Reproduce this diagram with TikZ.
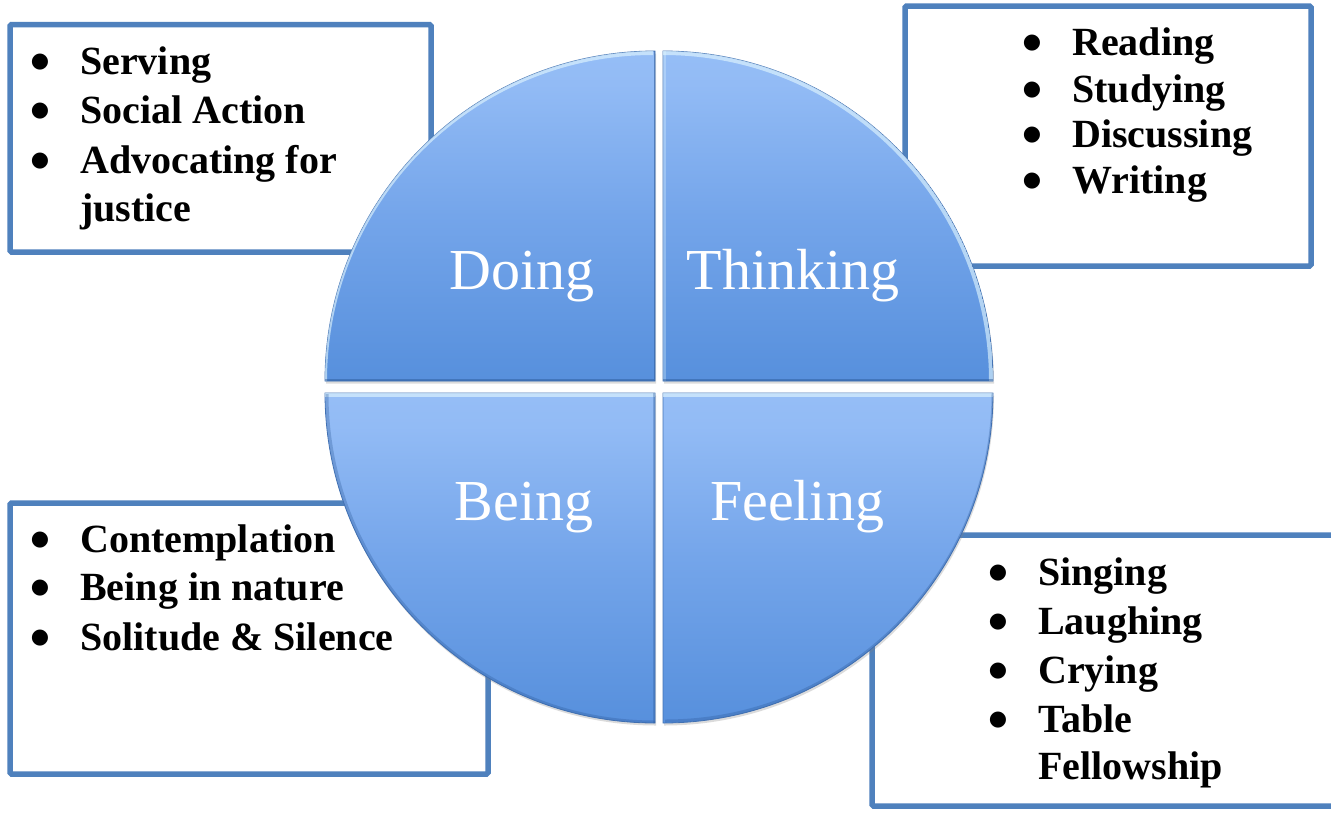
\documentclass[tikz,border=0pt]{standalone}
\usepackage{fontspec}
\setmainfont{Liberation Serif}
\newfontfamily\symbolfont{DejaVu Sans}
\usetikzlibrary{shadows}

\definecolor{boxblue}{HTML}{4F81BD}
\definecolor{qlight}{HTML}{A6C9FB}
\definecolor{qlighttwo}{HTML}{92BBF5}
\definecolor{qmid}{HTML}{74A5EA}
\definecolor{qmiddark}{HTML}{5A92DE}
\definecolor{qdark}{HTML}{407FD2}
\definecolor{qedge}{HTML}{4574B5}
\definecolor{qrim}{HTML}{2A5796}
\definecolor{qshine}{HTML}{E6FAFF}

% light at the top, deep blue at the bottom of each quarter
\pgfdeclareverticalshading{quadfill}{100bp}{%
  color(0bp)=(qdark); color(28bp)=(qmiddark); color(50bp)=(qmid);
  color(70bp)=(qlighttwo); color(100bp)=(qlight)}

% the four quarters of the disc, each with its own corner
\newcommand\pathDoing{(655,381) -- (325,381) arc[start angle=180, end angle=270, radius=330] -- cycle}
\newcommand\pathThinking{(663,381) -- (663,51) arc[start angle=270, end angle=360, radius=330] -- cycle}
\newcommand\pathBeing{(655,393) -- (655,723) arc[start angle=90, end angle=180, radius=330] -- cycle}
\newcommand\pathFeeling{(663,393) -- (993,393) arc[start angle=0, end angle=90, radius=330] -- cycle}

\begin{document}
\begin{tikzpicture}[x=1pt,y=-1pt,
  infobox/.style={draw=boxblue, line width=5.5pt, fill=white, rounded corners=1.5pt},
  item/.style={anchor=base west, inner sep=0pt, font=\fontsize{40}{47}\selectfont\bfseries},
  dot/.style={anchor=center, inner sep=0pt, font=\symbolfont\fontsize{21}{21}\selectfont},
  quadlabel/.style={anchor=base, inner sep=0pt, text=white, font=\fontsize{58}{70}\selectfont},
  quadrant/.style={shade, shading=quadfill, draw=qedge, line width=0.8pt,
    drop shadow={opacity=0.28, shadow xshift=1pt, shadow yshift=-2.5pt}},
  shine/.style={draw=qshine, line width=4pt, opacity=0.6},
  rim/.style={draw=qrim, line width=3pt, opacity=0.45},
]
\useasboundingbox (0,0) rectangle (1331,812);
\fill[white] (0,0) rectangle (1331,812);

% text boxes behind the disc
\draw[infobox] (10,24.5) rectangle (431,252);
\draw[infobox] (905,6) rectangle (1311,266);
\draw[infobox] (10,503) rectangle (488,774);
\draw[infobox] (872,535) rectangle (1345,806);

% quarters
\path[quadrant] \pathDoing;
\path[quadrant] \pathThinking;
\path[quadrant] \pathBeing;
\path[quadrant] \pathFeeling;

% bevel light and shade
\begin{scope}
  \clip \pathDoing;
  \draw[shine] (325,381) arc[start angle=180, end angle=270, radius=328];
  \draw[rim] (325,380) -- (655,380) -- (655,51);
\end{scope}
\begin{scope}
  \clip \pathThinking;
  \draw[shine] (663,53) arc[start angle=270, end angle=360, radius=328];
  \draw[shine, opacity=0.3] (664,51) -- (664,381);
  \draw[rim] (663,380) -- (993,380);
\end{scope}
\begin{scope}
  \clip \pathBeing;
  \draw[shine] (325,395) -- (655,395);
  \draw[rim, opacity=0.3] (654,393) -- (654,723);
  \draw[rim, opacity=0.3] (655,722) arc[start angle=90, end angle=180, radius=328];
\end{scope}
\begin{scope}
  \clip \pathFeeling;
  \draw[shine] (663,395) -- (993,395);
  \draw[rim, opacity=0.3] (993,393) arc[start angle=0, end angle=90, radius=328];
\end{scope}

% quarter titles
\node[quadlabel] (doing) at (522,289) {Doing};
\node[quadlabel] (thinking) at (793,289) {Thinking};
\node[quadlabel] (being) at (524,520) {Being};
\node[quadlabel] (feeling) at (797,520) {Feeling};

% Doing list
\node[dot] (d1) at (40,62.5) {●};
\node[item] (doing1) at (80,74) {Serving};
\node[dot] (d2) at (40,111.5) {●};
\node[item] (doing2) at (80,123) {Social Action};
\node[dot] (d3) at (40,161.5) {●};
\node[item] (doing3) at (80,173) {Advocating for};
\node[item] (doing4) at (80,221) {justice};

% Thinking list
\node[dot] (t1) at (1032,43.5) {●};
\node[item] (think1) at (1072,55) {Reading};
\node[dot] (t2) at (1032,90.5) {●};
\node[item] (think2) at (1072,102) {Studying};
\node[dot] (t3) at (1032,135.5) {●};
\node[item] (think3) at (1072,147) {Discussing};
\node[dot] (t4) at (1032,181.5) {●};
\node[item] (think4) at (1072,193) {Writing};

% Being list
\node[dot] (b1) at (40,540.5) {●};
\node[item] (being1) at (80,552) {Contemplation};
\node[dot] (b2) at (40,588.5) {●};
\node[item] (being2) at (80,600) {Being in nature};
\node[dot] (b3) at (40,638.5) {●};
\node[item] (being3) at (80,650) {Solitude \& Silence};

% Feeling list
\node[dot] (f1) at (998,573.5) {●};
\node[item] (feel1) at (1038,585) {Singing};
\node[dot] (f2) at (998,622.5) {●};
\node[item] (feel2) at (1038,634) {Laughing};
\node[dot] (f3) at (998,671.5) {●};
\node[item] (feel3) at (1038,683) {Crying};
\node[dot] (f4) at (998,720.5) {●};
\node[item] (feel4) at (1038,732) {Table};
\node[item] (feel5) at (1038,779) {Fellowship};
\end{tikzpicture}
\end{document}
